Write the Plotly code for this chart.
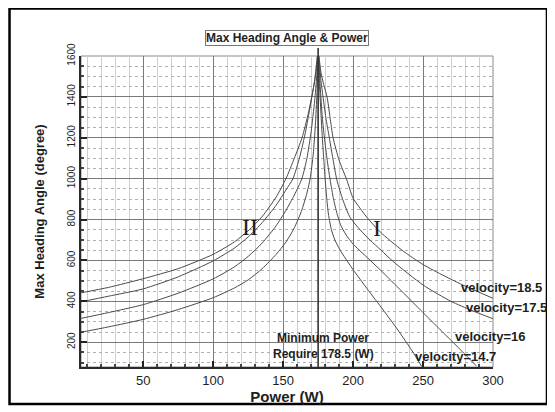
import plotly.graph_objects as go

# ---- data ----
x_v185 = [5.7, 25, 50, 75, 100, 115, 125, 135, 145, 152, 158, 163.5, 168, 171, 173.5, 175,
          177, 179, 181.4, 183.5, 185.7, 190, 195.5, 200, 210, 219.3, 235, 250, 265, 280, 300]
y_v185 = [442, 468, 511, 560, 630, 690, 745, 815, 910, 1000, 1100, 1200, 1320, 1420, 1520, 1620,
          1520, 1460, 1400, 1300, 1200, 1090, 994, 905, 810, 740, 650, 580, 525, 475, 415]

x_v175 = [5.7, 25, 50, 75, 100, 115, 125, 135, 145, 152, 157, 162, 166, 169.5, 172.5, 175,
          177, 178.5, 180.5, 183, 185.5, 188.4, 193, 197.9, 205, 212, 220, 228.8, 250, 270, 285, 300]
y_v175 = [398, 425, 461, 520, 598, 660, 715, 785, 870, 945, 1000, 1110, 1230, 1360, 1480, 1620,
          1480, 1400, 1300, 1200, 1100, 994, 890, 810, 750, 700, 650, 594, 480, 400, 355, 315]

x_v16 = [5.7, 25, 50, 75, 100, 115, 125, 135, 145, 152, 158, 163.4, 167, 170, 172.5, 174, 175,
         176.5, 178, 179.5, 181.5, 183.6, 186, 188.5, 191, 195, 200, 210, 220, 235, 250, 265, 278, 288]
y_v16 = [317, 345, 384, 440, 510, 568, 620, 685, 770, 845, 920, 1000, 1100, 1230, 1380, 1500, 1620,
         1450, 1300, 1200, 1090, 994, 900, 830, 775, 725, 680, 615, 550, 448, 345, 243, 155, 85]

x_v147 = [5.7, 25, 50, 75, 100, 115, 125, 135, 145, 152, 158, 163, 167, 169.3, 171.5, 173, 174.2, 175,
          176, 177, 178, 179, 180, 181.2, 182.5, 184.5, 187, 190.7, 200, 210, 221.5, 232, 242, 249]
y_v147 = [249, 275, 312, 360, 418, 465, 505, 560, 630, 690, 760, 840, 930, 1000, 1120, 1260, 1420, 1620,
          1450, 1320, 1200, 1100, 1000, 900, 820, 750, 700, 651, 555, 462, 358, 260, 160, 82]

min_power_x = 175
x_ticks = [50, 100, 150, 200, 250, 300]
y_ticks = [200, 400, 600, 800, 1000, 1200, 1400, 1600]

FONT = "Liberation Sans, Arial, sans-serif"
SERIF = "Liberation Serif, Times New Roman, serif"
CURVE = "#4a4a4a"
TXT = "#1e1e1e"

fig = go.Figure()
for xs, ys, name in [(x_v185, y_v185, "velocity=18.5"), (x_v175, y_v175, "velocity=17.5"),
                     (x_v16, y_v16, "velocity=16"), (x_v147, y_v147, "velocity=14.7")]:
    fig.add_trace(go.Scatter(x=xs, y=ys, mode="lines", name=name,
                             line=dict(color=CURVE, width=1, shape="spline", smoothing=0.6),
                             showlegend=False, hoverinfo="skip"))

# light frame of the plot area (top/right edges)
fig.add_shape(type="rect", xref="paper", yref="paper", x0=0, x1=1, y0=0, y1=1,
              line=dict(color="#8a8a8a", width=1), layer="below")

# vertical minimum-power line
fig.add_shape(type="line", xref="x", yref="paper", x0=min_power_x, x1=min_power_x,
              y0=0, y1=1.026, line=dict(color="#333333", width=1.6))

# outer frame
fig.add_shape(type="rect", xref="paper", yref="paper", x0=-0.1735, x1=1.131,
              y0=-0.119, y1=1.1527, line=dict(color="black", width=2.5))

ann = []
ann.append(dict(text="<b>Max Heading Angle &amp; Power</b>", xref="paper", yref="paper",
                x=0.4988, y=1.0563, showarrow=False, font=dict(family=FONT, size=12, color=TXT),
                bordercolor="#777", borderwidth=1, borderpad=0, bgcolor="white",
                xanchor="center", yanchor="middle"))
for txt, xx, xs, yy in [("velocity=18.5", 300, 8, 470), ("velocity=17.5", 300, 13, 372),
                        ("velocity=16", 298, 0, 226), ("velocity=14.7", 273, 0, 128)]:
    ann.append(dict(text="<b>" + txt + "</b>", x=xx, xshift=xs, y=yy, xref="x", yref="y",
                    showarrow=False, font=dict(family=FONT, size=13, color=TXT)))
ann.append(dict(text="<b>Minimum Power</b>", x=178.5, y=221, xref="x", yref="y",
                showarrow=False, font=dict(family=FONT, size=12, color=TXT)))
ann.append(dict(text="<b>Require 178.5 (W)</b>", x=178.5, y=143, xref="x", yref="y",
                showarrow=False, font=dict(family=FONT, size=12, color=TXT)))
ann.append(dict(text="II", x=126.4, y=765, xref="x", yref="y", showarrow=False,
                font=dict(family=SERIF, size=24, color=TXT)))
ann.append(dict(text="I", x=217, y=759, xref="x", yref="y", showarrow=False,
                font=dict(family=SERIF, size=24, color=TXT)))

fig.update_layout(
    width=547, height=404,
    margin=dict(l=73, r=62, t=48, b=45, autoexpand=False),
    paper_bgcolor="white", plot_bgcolor="white",
    annotations=ann,
    xaxis=dict(range=[5.5, 300], tickvals=x_ticks, ticks="inside", ticklen=6, tickwidth=2,
               automargin=False,
               tickcolor="#222", showline=True, linecolor="#2a2a2a", linewidth=2, mirror=False,
               showgrid=True, gridcolor="#7a7a7a", gridwidth=1, zeroline=False,
               tickfont=dict(family=FONT, size=13, color=TXT),
               title=dict(text="<b>Power (W)</b>", font=dict(family=FONT, size=15, color=TXT),
                          standoff=1),
               minor=dict(dtick=10, showgrid=True, gridcolor="#cfcfcf", gridwidth=1,
                          ticks="inside", ticklen=3, tickcolor="#444")),
    yaxis=dict(range=[79, 1600], tickvals=y_ticks, ticks="inside", ticklen=6, tickwidth=2,
               automargin=False,
               tickcolor="#222", showline=True, linecolor="#2a2a2a", linewidth=2, mirror=False,
               showgrid=True, gridcolor="#7a7a7a", gridwidth=1, zeroline=False,
               tickangle=-90, tickfont=dict(family=FONT, size=10, color=TXT),
               title=dict(text="<b>Max Heading Angle (degree)</b>",
                          font=dict(family=FONT, size=13, color=TXT), standoff=18),
               minor=dict(dtick=50, showgrid=True, gridcolor="#b0b0b0", gridwidth=1,
                          griddash="dot", ticks="inside", ticklen=3, tickcolor="#444")),
)

fig.write_html("out.html")
